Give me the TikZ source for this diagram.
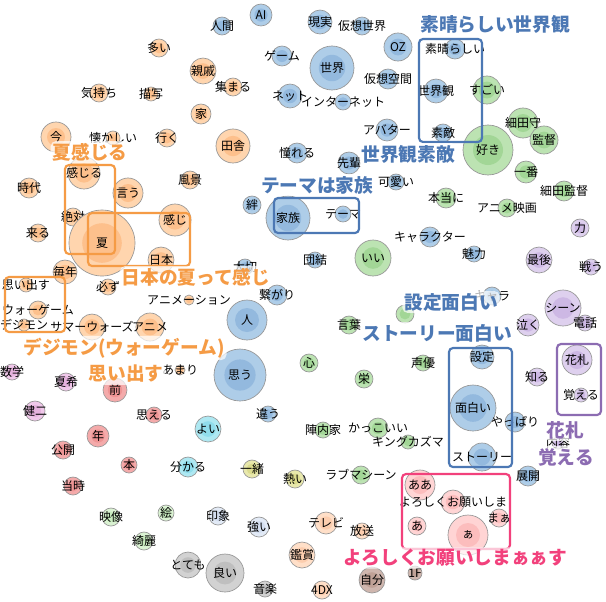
\documentclass[tikz,border=0pt]{standalone}
\usepackage{fontspec}
\setmainfont{Noto Sans CJK JP}
\usetikzlibrary{backgrounds}
\definecolor{cring}{HTML}{969696}
\definecolor{cedge}{HTML}{BEBEBE}
\definecolor{orgO}{HTML}{FFD5AE}\definecolor{orgI}{HTML}{FDC08C}
\definecolor{bluO}{HTML}{AECDE8}\definecolor{bluI}{HTML}{93B9DE}
\definecolor{grnO}{HTML}{BCE3B2}\definecolor{grnI}{HTML}{A2D696}
\definecolor{purO}{HTML}{DED0EE}\definecolor{purI}{HTML}{CDB8E4}
\definecolor{pnkO}{HTML}{FFD4D4}\definecolor{pnkI}{HTML}{FCBDBD}
\definecolor{redO}{HTML}{F4AAAA}\definecolor{redI}{HTML}{EE9494}
\definecolor{lavO}{HTML}{F0C8EA}\definecolor{lavI}{HTML}{E6B2DE}
\definecolor{cyaO}{HTML}{AEE8F2}\definecolor{cyaI}{HTML}{90DDEC}
\definecolor{yelO}{HTML}{E8E8AC}\definecolor{yelI}{HTML}{DBDB8E}
\definecolor{lgrO}{HTML}{DAF2D2}\definecolor{lgrI}{HTML}{C8EBBE}
\definecolor{gbuO}{HTML}{E2EAF6}\definecolor{gbuI}{HTML}{D3DEF0}
\definecolor{pchO}{HTML}{FFDFC8}\definecolor{pchI}{HTML}{FCCDAE}
\definecolor{gryO}{HTML}{D2D2D2}\definecolor{gryI}{HTML}{BFBFBF}
\definecolor{brnO}{HTML}{CFB6AE}\definecolor{brnI}{HTML}{C0A196}
\definecolor{corange}{HTML}{F59B45}
\definecolor{cblue}{HTML}{4C78B4}
\definecolor{cpurple}{HTML}{8C6CB2}
\definecolor{cpink}{HTML}{F2417C}

\begin{document}
\begin{tikzpicture}[x=0.75pt, y=-0.75pt,
  lb/.style={font=\fontsize{9}{10}\selectfont, text=black, inner sep=0pt},
  wn/.style 2 args={circle, draw=cring, line width=0.5pt, fill=#1O, inner sep=0pt,
              minimum size=1.5pt*#2,
              path picture={\fill[#1I] (path picture bounding box.center) circle (0.45pt*#2);}},
  ed/.style={draw=cedge, line width=0.9pt},
  dt/.style={ed, dotted},
  box/.style={draw=#1, line width=1.6pt, rounded corners=3pt},
  call/.style={font=\fontsize{14}{16}\selectfont\bfseries, text=#1, fill=white,
               fill opacity=0.7, text opacity=1, inner sep=1.5pt, rounded corners=4pt}
]
\useasboundingbox[fill=white] (0,0) rectangle (606,601);

% orange cluster
\node[wn={org}{9}, label={[lb]center:多い}] (ooi) at (159,48) {};
\node[wn={org}{13}, label={[lb]center:親戚}] (shinseki) at (203,71) {};
\node[wn={org}{9}, label={[lb]center:気持ち}] (kimochi) at (99,93) {};
\node[wn={org}{7}, label={[lb]center:描写}] (byosha) at (151,94) {};
\node[wn={org}{10}, label={[lb]center:家}] (ie) at (201,114) {};
\node[wn={org}{9}, label={[lb]center:行く}] (iku) at (167,138) {};
\node[wn={org}{7}, label={[lb]center:懐かしい}] (natsukashii) at (113,138) {};
\node[wn={org}{15}, label={[lb]center:今}] (ima) at (56,137) {};
\node[wn={org}{16}, label={[lb]center:感じる}] (kanjiru) at (84,173) {};
\node[wn={org}{10}, label={[lb]center:時代}] (jidai) at (29,188) {};
\node[wn={org}{15}, label={[lb]center:言う}] (iu) at (128,193) {};
\node[wn={org}{9}, label={[lb]center:風景}] (fukei) at (190,180) {};
\node[wn={org}{9}, label={[lb]center:集まる}] (atsumaru) at (233,87) {};
\node[wn={org}{17}, label={[lb]center:田舎}] (inaka) at (233,146) {};
\node[wn={org}{9}, label={[lb]center:絶対}] (zettai) at (73,217) {};
\node[wn={org}{33}, label={[lb]center:夏}] (natsu) at (102,243) {};
\node[wn={org}{16}, label={[lb]center:感じ}] (kanji) at (175,220) {};
\node[wn={org}{13}, label={[lb]center:日本}] (nihon) at (161,260) {};
\node[wn={org}{9}, label={[lb]center:来る}] (kuru) at (38,233) {};
\node[wn={org}{12}, label={[lb]center:毎年}] (mainen) at (65,272) {};
\node[wn={org}{8}, label={[lb]center:必ず}] (kanarazu) at (108,287) {};
\node[wn={org}{7}, label={[lb]center:思い出す}] (omoidasu) at (26,285) {};
\node[wn={org}{9}, label={[lb]center:ウォーゲーム}] (wargame) at (38,310) {};
\node[wn={org}{6}, label={[lb]center:デジモン}] (digimon) at (24,325) {};
\node[wn={org}{13}, label={[lb]center:サマーウォーズ}] (summerwars) at (92,327) {};
\node[wn={org}{14}, label={[lb]center:アニメ}] (anime) at (150,327) {};
\node[wn={org}{5}, label={[lb]center:アニメーション}] (animation) at (189,300) {};
\node[wn={org}{5}, label={[lb]center:あまり}] (amari) at (180,370) {};

% small clusters, left
\node[wn={lav}{8}, label={[lb]center:数学}] (sugaku) at (12,372) {};
\node[wn={lav}{9}, label={[lb]center:夏希}] (natsuki) at (66,382) {};
\node[wn={lav}{10}, label={[lb]center:健二}] (kenji) at (35,411) {};
\node[wn={red}{12}, label={[lb]center:前}] (mae) at (115,390) {};
\node[wn={red}{8}, label={[lb]center:思える}] (omoeru) at (154,415) {};
\node[wn={red}{11}, label={[lb]center:年}] (nen) at (98,436) {};
\node[wn={red}{9}, label={[lb]center:公開}] (kokai) at (63,450) {};
\node[wn={red}{8}, label={[lb]center:本}] (hon) at (129,465) {};
\node[wn={red}{9}, label={[lb]center:当時}] (toji) at (73,486) {};

% blue cluster
\node[wn={blu}{9}, label={[lb]center:人間}] (ningen) at (222,26) {};
\node[wn={blu}{11}, label={[lb]center:AI}] (ai) at (261,15) {};
\node[wn={blu}{12}, label={[lb]center:現実}] (genjitsu) at (320,22) {};
\node[wn={blu}{9}, label={[lb]center:仮想世界}] (kasosekai) at (362,26) {};
\node[wn={blu}{14}, label={[lb]center:OZ}] (oz) at (398,47) {};
\node[wn={blu}{10}, label={[lb]center:ゲーム}] (game) at (282,56) {};
\node[wn={blu}{22}, label={[lb]center:世界}] (sekai) at (332,68) {};
\node[wn={blu}{10}, label={[lb]center:仮想空間}] (kasokukan) at (388,79) {};
\node[wn={blu}{12}, label={[lb]center:ネット}] (net) at (290,96) {};
\node[wn={blu}{8}, label={[lb]center:インターネット}] (internet) at (343,102) {};
\node[wn={blu}{11}, label={[lb]center:アバター}] (avatar) at (387,130) {};
\node[wn={blu}{10}, label={[lb]center:憧れる}] (akogareru) at (297,153) {};
\node[wn={blu}{11}, label={[lb]center:先輩}] (senpai) at (349,163) {};
\node[wn={blu}{8}, label={[lb]center:可愛い}] (kawaii) at (396,182) {};
\node[wn={blu}{10}, label={[lb]center:素晴らしい}] (subarashii) at (455,49) {};
\node[wn={blu}{12}, label={[lb]center:世界観}] (sekaikan) at (436,91) {};
\node[wn={blu}{9}, label={[lb]center:素敵}] (suteki) at (443,133) {};
\node[wn={blu}{9}, label={[lb]center:絆}] (kizuna) at (252,205) {};
\node[wn={blu}{22}, label={[lb]center:家族}] (kazoku) at (288,218) {};
\node[wn={blu}{8}, label={[lb]center:テーマ}] (theme) at (343,214) {};
\node[wn={blu}{8}, label={[lb]center:団結}] (danketsu) at (315,260) {};
\node[wn={blu}{8}, label={[lb]center:大切}] (taisetsu) at (245,267) {};
\node[wn={blu}{10}, label={[lb]center:繋がり}] (tsunagari) at (277,295) {};
\node[wn={blu}{20}, label={[lb]center:人}] (hito) at (247,320) {};
\node[wn={blu}{26}, label={[lb]center:思う}] (omou) at (240,375) {};
\node[wn={blu}{8}, label={[lb]center:違う}] (chigau) at (268,414) {};
\node[wn={blu}{10}, label={[lb]center:キャラクター}] (character) at (430,237) {};
\node[wn={blu}{8}, label={[lb]center:魅力}] (miryoku) at (474,254) {};
\node[wn={blu}{9}, label={[lb]center:キャラ}] (chara) at (492,296) {};
\node[wn={blu}{12}, label={[lb]center:設定}] (settei) at (482,357) {};
\node[wn={blu}{23}, label={[lb]center:面白い}] (omoshiroi) at (473,408) {};
\node[wn={blu}{10}, label={[lb]center:やっぱり}] (yappari) at (515,422) {};
\node[wn={blu}{14}, label={[lb]center:ストーリー}] (story) at (482,457) {};
\node[wn={blu}{10}, label={[lb]center:展開}] (tenkai) at (528,476) {};

% green cluster
\node[wn={grn}{14}, label={[lb]center:すごい}] (sugoi) at (487,90) {};
\node[wn={grn}{25}, label={[lb]center:好き}] (suki) at (488,150) {};
\node[wn={grn}{15}, label={[lb]center:細田守}] (hosodamamoru) at (523,123) {};
\node[wn={grn}{14}, label={[lb]center:監督}] (kantoku) at (544,140) {};
\node[wn={grn}{11}, label={[lb]center:一番}] (ichiban) at (526,172) {};
\node[wn={grn}{10}, label={[lb]center:細田監督}] (hosodakantoku) at (564,191) {};
\node[wn={grn}{10}, label={[lb]center:本当に}] (hontoni) at (446,198) {};
\node[wn={grn}{9}, label={[lb]center:アニメ映画}] (animeeiga) at (507,208) {};
\node[wn={grn}{18}, label={[lb]center:いい}] (ii) at (373,258) {};
\node[wn={grn}{9}, label={[lb]center:言葉}] (kotoba) at (349,325) {};
\node[wn={grn}{9}] (gensaku) at (405,314) {};
\node[wn={grn}{8}, label={[lb]center:声優}] (seiyu) at (423,363) {};
\node[wn={grn}{9}, label={[lb]center:心}] (kokoro) at (309,363) {};
\node[wn={grn}{9}, label={[lb]center:栄}] (sakae) at (364,379) {};
\node[wn={grn}{8}, label={[lb]center:陣内家}] (jinnouchi) at (323,430) {};
\node[wn={grn}{10}, label={[lb]center:かっこいい}] (kakkoii) at (378,428) {};
\node[wn={grn}{7}, label={[lb]center:キングカズマ}] (kingkazuma) at (408,442) {};
\node[wn={grn}{9}, label={[lb]center:ラブマシーン}] (lovemachine) at (361,475) {};

% purple cluster
\node[wn={pur}{9}, label={[lb]center:力}] (chikara) at (580,228) {};
\node[wn={pur}{13}, label={[lb]center:最後}] (saigo) at (539,260) {};
\node[wn={pur}{8}, label={[lb]center:戦う}] (tatakau) at (591,267) {};
\node[wn={pur}{18}, label={[lb]center:シーン}] (scene) at (563,308) {};
\node[wn={pur}{8}, label={[lb]center:電話}] (denwa) at (585,323) {};
\node[wn={pur}{11}, label={[lb]center:泣く}] (naku) at (528,325) {};
\node[wn={pur}{15}, label={[lb]center:花札}] (hanafuda) at (577,360) {};
\node[wn={pur}{9}, label={[lb]center:知る}] (shiru) at (537,377) {};
\node[wn={pur}{7}, label={[lb]center:覚える}] (oboeru) at (581,395) {};
\node[wn={pur}{6}, label={[lb]center:内容}] (naiyo) at (558,443) {};

% pink cluster
\node[wn={pnk}{15}, label={[lb]center:ああ}] (aa) at (420,485) {};
\node[wn={pnk}{20}, label={[lb]center:ぁ}] (xa) at (468,535) {};
\node[wn={pnk}{12}, label={[lb]center:よろしくお願いしま}] (yoroshiku) at (453,502) {};
\node[wn={pnk}{9}, label={[lb]center:あ}] (a) at (417,526) {};
\node[wn={pnk}{9}, label={[lb]center:まぁ}] (maa) at (499,518) {};

% small clusters, bottom
\node[wn={cya}{13}, label={[lb]center:よい}] (yoi) at (208,429) {};
\node[wn={cya}{10}, label={[lb]center:分かる}] (wakaru) at (188,467) {};
\node[wn={yel}{9}, label={[lb]center:一緒}] (issho) at (252,469) {};
\node[wn={yel}{9}, label={[lb]center:熱い}] (atsui) at (295,479) {};
\node[wn={lgr}{9}, label={[lb]center:映像}] (eizo) at (111,517) {};
\node[wn={lgr}{8}, label={[lb]center:絵}] (e) at (166,513) {};
\node[wn={lgr}{9}, label={[lb]center:綺麗}] (kirei) at (144,541) {};
\node[wn={gbu}{9}, label={[lb]center:印象}] (insho) at (218,516) {};
\node[wn={gbu}{10}, label={[lb]center:強い}] (tsuyoi) at (259,527) {};
\node[wn={pch}{11}, label={[lb]center:テレビ}] (terebi) at (326,523) {};
\node[wn={pch}{8}, label={[lb]center:放送}] (hoso) at (362,531) {};
\node[wn={pch}{13}, label={[lb]center:鑑賞}] (kansho) at (302,555) {};
\node[wn={pch}{9}, label={[lb]center:4DX}] (fourdx) at (322,590) {};
\node[wn={gry}{13}, label={[lb]center:とても}] (totemo) at (188,565) {};
\node[wn={gry}{19}, label={[lb]center:良い}] (yoigood) at (225,573) {};
\node[wn={gry}{8}, label={[lb]center:音楽}] (ongaku) at (265,589) {};
\node[wn={brn}{13}, label={[lb]center:自分}] (jibun) at (372,580) {};
\node[wn={brn}{7}, label={[lb]center:1F}] (onef) at (415,573) {};

% connectors
\begin{scope}[on background layer]
\foreach \a/\b in {ooi/shinseki, shinseki/ie, shinseki/atsumaru, shinseki/inaka,
    atsumaru/ie, atsumaru/inaka, ie/inaka, ie/iku, iku/inaka, byosha/inaka,
    fukei/inaka, natsukashii/fukei, kimochi/natsukashii, fukei/kanji, inaka/kanji,
    ima/jidai, jidai/kanjiru, jidai/omoidasu, kanjiru/natsu, iu/natsu, zettai/natsu,
    kuru/natsu, natsu/kanji, natsu/nihon, natsu/mainen, natsu/kanarazu,
    natsu/summerwars, kanji/nihon, nihon/anime, mainen/kanarazu,
    omoidasu/wargame, wargame/digimon,
    sugaku/kenji, natsuki/kenji, mae/nen, mae/omoeru, nen/kokai, nen/hon, kokai/toji,
    ningen/ai, ai/genjitsu, genjitsu/sekai, kasosekai/oz, kasosekai/internet,
    oz/sekai, oz/kasokukan, oz/sekaikan, game/sekai, game/net, net/sekai,
    sekai/internet, sekai/avatar, sekai/akogareru, internet/sekaikan,
    akogareru/senpai, senpai/kawaii, avatar/kawaii, akogareru/kazoku,
    kawaii/character, subarashii/sekaikan, sekaikan/suteki, sugoi/suki,
    suki/hosodamamoru, suki/kantoku, suki/ichiban, hosodamamoru/kantoku,
    hosodamamoru/ichiban, kantoku/ichiban, ichiban/hosodakantoku,
    suki/animeeiga, suki/hontoni, hontoni/ii,
    character/miryoku, miryoku/chara, chara/settei, settei/omoshiroi,
    omoshiroi/story, omoshiroi/yappari, story/tenkai,
    ii/kotoba, ii/gensaku, kotoba/kokoro, kotoba/sakae, sakae/kakkoii,
    gensaku/seiyu, kakkoii/jinnouchi, kakkoii/kingkazuma, kakkoii/lovemachine,
    kazoku/kizuna, kazoku/theme, kazoku/danketsu, kazoku/taisetsu,
    kazoku/tsunagari, taisetsu/hito, hito/tsunagari, hito/omou, omou/chigau,
    saigo/scene, chikara/tatakau, tatakau/scene, scene/denwa, scene/naku,
    scene/hanafuda, hanafuda/shiru, hanafuda/oboeru, oboeru/naiyo,
    aa/yoroshiku, a/yoroshiku, a/xa, yoroshiku/xa, maa/xa,
    yoi/wakaru, issho/atsui, insho/tsuyoi, eizo/kirei, e/kirei,
    terebi/hoso, terebi/kansho, kansho/fourdx, totemo/yoigood,
    yoigood/ongaku, jibun/onef}
  \draw[ed] (\a) -- (\b);
\foreach \a/\b in {inaka/internet, inaka/kazoku, kazoku/ii, sekaikan/sugoi, sekaikan/suki}
  \draw[dt] (\a) -- (\b);
\end{scope}

% frames
\draw[box=corange] (65,165) rectangle (115,254);
\draw[box=corange] (88,213) rectangle (190,266);
\draw[box=corange] (5,277) rectangle (65,332);
\draw[box=cblue] (419,39) rectangle (482,142);
\draw[box=cblue] (274,198) rectangle (359,233);
\draw[box=cblue] (449,348) rectangle (512,467);
\draw[box=cpurple] (557,344) rectangle (601,415);
\draw[box=cpink] (402,474) rectangle (510,549);

% callouts
\node[call=corange] (c1) at (90,152) {夏感じる};
\node[call=cblue] (c2) at (317,185) {テーマは家族};
\node[call=cblue] (c3) at (495,24) {素晴らしい世界観};
\node[call=cblue] (c4) at (408,154) {世界観素敵};
\node[call=corange] (c5) at (196,277) {日本の夏って感じ};
\node[call=corange] (c6) at (124,348) {デジモン(ウォーゲーム)};
\node[call=corange] (c7) at (126,374) {思い出す};
\node[call=cblue] (c8) at (451,302) {設定面白い};
\node[call=cblue] (c9) at (437,333) {ストーリー面白い};
\node[call=cpurple] (c10) at (565,430) {花札};
\node[call=cpurple] (c11) at (566,457) {覚える};
\node[call=cpink] (c12) at (455,558) {よろしくお願いしまぁぁす};
\end{tikzpicture}
\end{document}
